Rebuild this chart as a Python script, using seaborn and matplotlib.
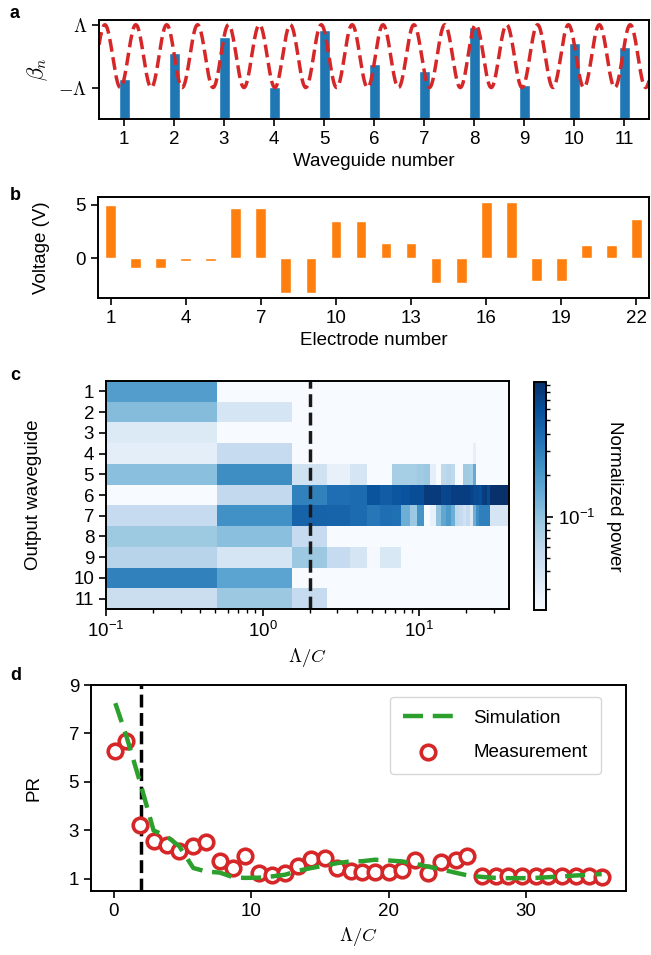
import numpy as np
import matplotlib
matplotlib.use("Agg")
import matplotlib.pyplot as plt
from matplotlib.colors import LogNorm
import seaborn as sns

# ---- panel a: detuning of each waveguide
waveguides = list(range(1, 12))
beta = [-0.74, 0.09, 0.61, -0.98, 0.84, -0.26, -0.46, 0.94, -0.92, 0.42, 0.30]
mod_freq = 1.618  # the dashed cosine behind the bars (period ~0.618 waveguide)

# ---- panel b: electrode voltages
electrodes = list(range(1, 23))
voltages = [5.0, -0.9, -0.9, -0.25, -0.25, 4.72, 4.72, -3.25, -3.25, 3.5, 3.5,
            1.44, 1.44, -2.31, -2.31, 5.28, 5.28, -2.09, -2.09, 1.25, 1.25, 3.69]

# ---- panel c: output power map (rows = output waveguide 1..11)
lam_c_map = [0, 1.03, 2.05, 3.08, 4.1, 5.13, 6.15, 7.18, 8.2, 9.23, 10.25, 11.28,
             12.3, 13.33, 14.35, 15.38, 16.4, 17.43, 18.45, 19.48, 20.5, 21.53,
             22.55, 23.58, 24.6, 25.63, 26.65, 27.68, 28.7, 29.73, 30.75, 31.78,
             32.8, 33.83, 34.85, 35.88, 36.9]
out_wg = list(range(1, 12))
p_wg1 = [0.19, 0.02] + [0.01] * 35
p_wg2 = [0.11, 0.04] + [0.01] * 35
p_wg3 = [0.035, 0.01] + [0.01] * 35
p_wg4 = [0.031, 0.055] + [0.01] * 20 + [0.03] + [0.01] * 14
p_wg5 = [0.105, 0.24, 0.045, 0.028, 0.04, 0.015, 0.015, 0.08, 0.08, 0.08, 0.085,
         0.09, 0.03, 0.015, 0.06, 0.065, 0.06, 0.015, 0.015, 0.085, 0.085, 0.08,
         0.15, 0.02] + [0.015] * 13
p_wg6 = [0.02, 0.057, 0.29, 0.38, 0.4, 0.56, 0.5, 0.54, 0.58, 0.62, 0.62, 0.8,
         0.8, 0.8, 0.68, 0.7, 0.76, 0.76, 0.76, 0.76, 0.76, 0.72, 0.64, 0.64,
         0.6, 0.78, 0.8, 0.64] + [0.97] * 9
p_wg7 = [0.055, 0.23, 0.45, 0.44, 0.4, 0.34, 0.38, 0.37, 0.14, 0.09, 0.22, 0.015,
         0.028, 0.1, 0.16, 0.2, 0.14, 0.06, 0.055, 0.045, 0.055, 0.035, 0.14,
         0.24, 0.3, 0.3, 0.3, 0.3] + [0.04] * 9
p_wg8 = [0.088, 0.105, 0.055] + [0.01] * 34
p_wg9 = [0.066, 0.04, 0.09, 0.055, 0.04, 0.022, 0.037, 0.037] + [0.01] * 29
p_wg10 = [0.29, 0.17] + [0.01] * 35
p_wg11 = [0.05, 0.09, 0.055] + [0.01] * 34

# ---- panel d: participation ratio
lam_c_pr = [0.12, 0.92, 1.94, 2.9, 3.86, 4.77, 5.79, 6.75, 7.72, 8.68, 9.53, 10.54,
            11.5, 12.46, 13.38, 14.39, 15.36, 16.27, 17.23, 18.1, 19.0, 20.0, 21.0,
            21.95, 22.9, 23.8, 24.9, 25.7, 26.8, 27.8, 28.7, 29.7, 30.7, 31.6,
            32.6, 33.6, 34.6, 35.5]
pr_meas = [6.28, 6.70, 3.24, 2.55, 2.38, 2.13, 2.34, 2.51, 1.72, 1.44, 1.93, 1.26,
           1.17, 1.26, 1.54, 1.82, 1.86, 1.46, 1.33, 1.30, 1.30, 1.30, 1.37, 1.79,
           1.26, 1.68, 1.79, 1.95, 1.10, 1.10, 1.10, 1.10, 1.10, 1.10, 1.10, 1.10,
           1.10, 1.06]
pr_sim = [8.25, 6.9, 4.95, 3.0, 2.75, 2.35, 1.45, 1.3, 1.26, 1.07, 1.04, 1.05,
          1.1, 1.17, 1.33, 1.45, 1.55, 1.65, 1.72, 1.73, 1.79, 1.76, 1.72, 1.62,
          1.5, 1.4, 1.25, 1.15, 1.08, 1.04, 1.03, 1.03, 1.04, 1.07, 1.1, 1.14,
          1.17, 1.2]
lam_c_cut = 2.0

sns.set_theme(style="ticks")
plt.rcParams.update({
    "font.family": ["Liberation Sans", "DejaVu Sans"],
    "mathtext.fontset": "cm",
    "font.size": 13.5,
    "axes.labelsize": 13.5,
    "xtick.labelsize": 13.5,
    "ytick.labelsize": 13.5,
    "legend.fontsize": 13.5,
    "axes.edgecolor": "black",
    "axes.linewidth": 1.4,
    "xtick.color": "black",
    "ytick.color": "black",
    "xtick.major.width": 1.2,
    "ytick.major.width": 1.2,
    "xtick.major.size": 5,
    "ytick.major.size": 5,
    "xtick.minor.width": 1.0,
    "ytick.minor.width": 1.0,
    "xtick.minor.size": 3,
    "ytick.minor.size": 3,
    "axes.labelcolor": "black",
    "text.color": "black",
})

W, H = 651, 955
fig = plt.figure(figsize=(W / 100, H / 100), dpi=100)


def box(l, t, r, b):
    return [l / W, 1 - b / H, (r - l) / W, (b - t) / H]


def ylab(ax, x_px):
    pos = ax.get_position()
    ax.yaxis.set_label_coords(x_px / W, pos.y0 + pos.height / 2, transform=fig.transFigure)


# a
ax = fig.add_axes(box(99, 20, 649, 119))
ax.bar(waveguides, [b + 2 for b in beta], bottom=-2, width=0.22, color="#1f77b4")
xs = np.linspace(0.5, 11.5, 800)
ax.plot(xs, np.cos(2 * np.pi * mod_freq * xs), color="#d62728", ls="--", lw=2.5)
ax.set_xlim(0.5, 11.5)
ax.set_ylim(-2, 1.15)
ax.set_xticks(waveguides)
ax.set_yticks([-1, 1], [r"$-\Lambda$", r"$\Lambda$"])
ax.set_xlabel("Waveguide number")
ax.set_ylabel(r"$\beta_n$", fontsize=16)
ylab(ax, 50)

# b
ax = fig.add_axes(box(98, 197, 649, 298))
sns.barplot(x=electrodes, y=voltages, native_scale=True, width=0.43,
            color="#ff7f0e", saturation=1, errorbar=None, ax=ax)
ax.set_xlim(0.5, 22.5)
ax.set_xticks([1, 4, 7, 10, 13, 16, 19, 22])
ax.set_yticks([0, 5])
ax.set_xlabel("Electrode number")
ax.set_ylabel("Voltage (V)")
ylab(ax, 50)

# c
ax = fig.add_axes(box(106, 381, 509, 609))
power = np.array([p_wg1, p_wg2, p_wg3, p_wg4, p_wg5, p_wg6, p_wg7, p_wg8,
                  p_wg9, p_wg10, p_wg11])
xc = np.array(lam_c_map)
mids = (xc[1:] + xc[:-1]) / 2
xedges = np.concatenate([[0.01], mids, [xc[-1] + (xc[-1] - xc[-2]) / 2]])
yedges = np.arange(0.5, 12, 1.0)
mesh = ax.pcolormesh(xedges, yedges, power, cmap="Blues",
                     norm=LogNorm(vmin=0.021, vmax=0.95))
ax.set_xscale("log")
ax.set_xlim(0.1, xedges[-1])
ax.set_ylim(11.5, 0.5)
ax.set_yticks(out_wg)
ax.axvline(lam_c_cut, color="#1a1a1a", ls="--", lw=2.5)
ax.set_xlabel(r"$\Lambda/C$")
ax.set_ylabel("Output waveguide")
ylab(ax, 42)
cax = fig.add_axes(box(534, 382, 546, 610))
cb = fig.colorbar(mesh, cax=cax)
cb.outline.set_linewidth(1.4)
cb.set_label("Normalized power", rotation=270, labelpad=20)

# d
ax = fig.add_axes(box(91, 685, 626, 891))
ax.axvline(lam_c_cut, color="black", ls="--", lw=2.5)
sns.lineplot(x=lam_c_pr, y=pr_sim, color="#2ca02c", linestyle=(0, (4.5, 2.2)),
             lw=3.2, label="Simulation", zorder=4, ax=ax)
sns.scatterplot(x=lam_c_pr, y=pr_meas, marker="o", s=110, facecolor="white",
                edgecolor="#d62728", linewidth=2.6, label="Measurement",
                zorder=3, ax=ax)
ax.set_ylim(0.5, 9)
ax.set_yticks([1, 3, 5, 7, 9])
ax.set_xticks([0, 10, 20, 30])
ax.set_xlabel(r"$\Lambda/C$")
ax.set_ylabel("PR")
ylab(ax, 42)
ax.legend(loc="upper right", bbox_to_anchor=(0.953, 0.943), borderaxespad=0,
          handlelength=2.65, handletextpad=1.1, labelspacing=0.9,
          borderpad=0.7, edgecolor="0.8")

for lbl, base in zip("abcd", [18, 200, 380, 680]):
    fig.text(10 / W, 1 - base / H, lbl, fontsize=13, weight="bold",
             va="baseline", ha="left")

fig.savefig("out.png", dpi=100)
